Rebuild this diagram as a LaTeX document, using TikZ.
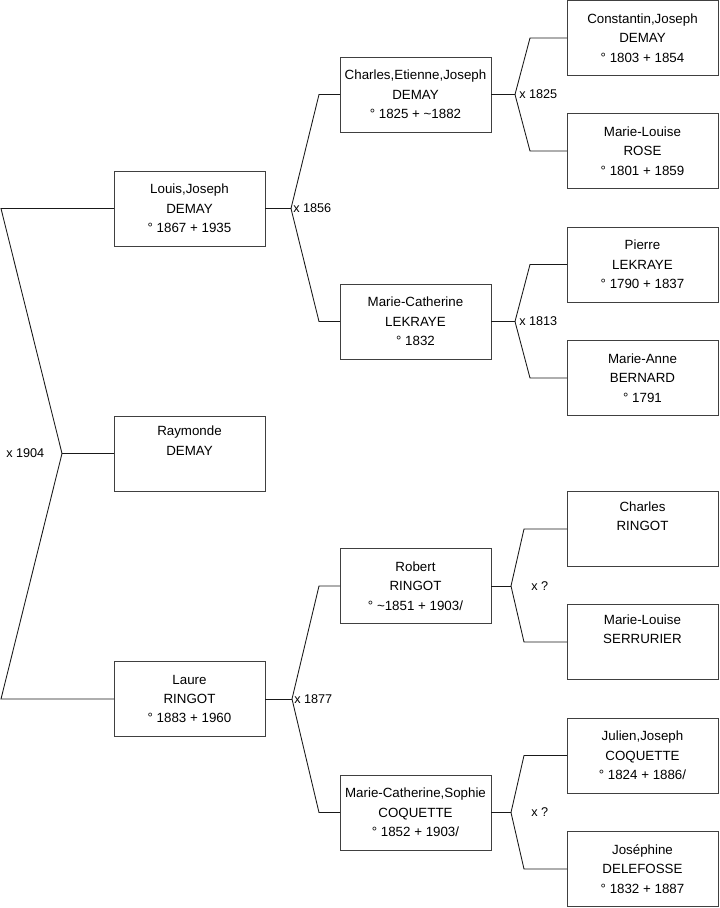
\documentclass[tikz,border=0pt]{standalone}
\usepackage{fontspec}
\setmainfont{Liberation Sans}
\begin{document}
\begin{tikzpicture}[x=0.75pt,y=-0.75pt,
  person/.style={draw=black!75, line width=0.75pt, minimum width=113.25pt, minimum height=56.25pt,
    inner sep=0pt, outer sep=0pt, align=center, font=\fontsize{10}{14.6}\selectfont},
  link/.style={draw=black!90, line width=0.65pt},
  mar/.style={anchor=west, inner sep=0pt, font=\fontsize{9.5}{11}\selectfont}]
\useasboundingbox (0,0) rectangle (719,908);
% generation 1
\node[person] (louis) at (189.5,208.5) {Louis,Joseph\\DEMAY\\° 1867 + 1935};
\node[person] (raymonde) at (189.5,453.5) {Raymonde\\DEMAY\\\strut};
\node[person] (laure) at (189.5,699) {Laure\\RINGOT\\° 1883 + 1960};
% generation 2
\node[person] (charles) at (415.5,94.5) {Charles,Etienne,Joseph\\DEMAY\\° 1825 + \textasciitilde1882};
\node[person] (mcath) at (415.5,321.5) {Marie-Catherine\\LEKRAYE\\° 1832};
\node[person] (robert) at (415.5,586) {Robert\\RINGOT\\° \textasciitilde1851 + 1903/};
\node[person] (sophie) at (415.5,812.5) {Marie-Catherine,Sophie\\COQUETTE\\° 1852 + 1903/};
% generation 3
\node[person] (constantin) at (642.5,38) {Constantin,Joseph\\DEMAY\\° 1803 + 1854};
\node[person] (rose) at (642.5,151) {Marie-Louise\\ROSE\\° 1801 + 1859};
\node[person] (pierre) at (642.5,264.5) {Pierre\\LEKRAYE\\° 1790 + 1837};
\node[person] (bernard) at (642.5,378) {Marie-Anne\\BERNARD\\° 1791};
\node[person] (cringot) at (642.5,529) {Charles\\RINGOT\\\strut};
\node[person] (serrurier) at (642.5,642) {Marie-Louise\\SERRURIER\\\strut};
\node[person] (julien) at (642.5,755.5) {Julien,Joseph\\COQUETTE\\° 1824 + 1886/};
\node[person] (josephine) at (642.5,869) {Joséphine\\DELEFOSSE\\° 1832 + 1887};
% coordinates of forks
\coordinate (a1) at (1,208.5);
\coordinate (v1) at (62,453.5);
\coordinate (a2) at (1,699);
\coordinate (v2) at (291,208.5);
\coordinate (b1) at (319,94.5);
\coordinate (b2) at (319,321.5);
\coordinate (v3) at (292,699);
\coordinate (b3) at (319,586);
\coordinate (b4) at (319,812.5);
\coordinate (v4) at (515,94.5);
\coordinate (c1) at (530,38);
\coordinate (c2) at (530,151);
\coordinate (v5) at (515,321.5);
\coordinate (c3) at (530,264.5);
\coordinate (c4) at (530,378);
\coordinate (v6) at (511,586);
\coordinate (c5) at (524,529);
\coordinate (c6) at (524,642);
\coordinate (v7) at (511,812.5);
\coordinate (c7) at (524,755.5);
\coordinate (c8) at (524,869);
% connectors
\draw[link] (louis.west) -- (a1) -- (v1) -- (a2) -- (laure.west);
\draw[link] (v1) -- (raymonde.west);
\draw[link] (louis.east) -- (v2);
\draw[link] (charles.west) -- (b1) -- (v2) -- (b2) -- (mcath.west);
\draw[link] (laure.east) -- (v3);
\draw[link] (robert.west) -- (b3) -- (v3) -- (b4) -- (sophie.west);
\draw[link] (charles.east) -- (v4);
\draw[link] (constantin.west) -- (c1) -- (v4) -- (c2) -- (rose.west);
\draw[link] (mcath.east) -- (v5);
\draw[link] (pierre.west) -- (c3) -- (v5) -- (c4) -- (bernard.west);
\draw[link] (robert.east) -- (v6);
\draw[link] (cringot.west) -- (c5) -- (v6) -- (c6) -- (serrurier.west);
\draw[link] (sophie.east) -- (v7);
\draw[link] (julien.west) -- (c7) -- (v7) -- (c8) -- (josephine.west);
% marriage labels
\node[mar] (m1904) at (6,453.5) {x 1904};
\node[mar] (m1856) at (293,208.5) {x 1856};
\node[mar] (m1877) at (294,699) {x 1877};
\node[mar] (m1825) at (519,94.5) {x 1825};
\node[mar] (m1813) at (519,321.5) {x 1813};
\node[mar] (mq1) at (531,586) {x ?};
\node[mar] (mq2) at (531,812.5) {x ?};
\end{tikzpicture}
\end{document}
